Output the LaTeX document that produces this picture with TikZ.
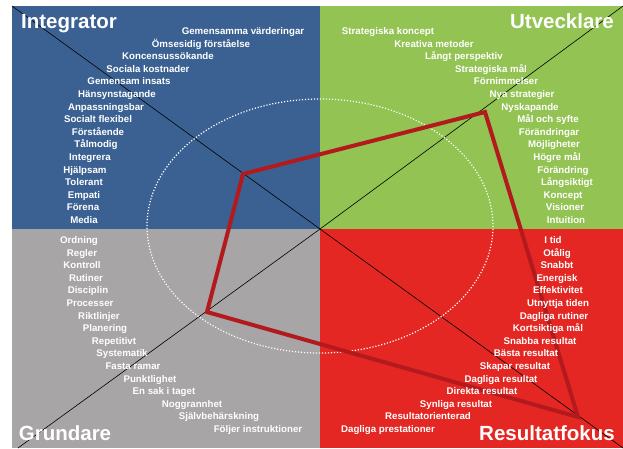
\documentclass[tikz,border=0pt]{standalone}
\usepackage{fontspec}
\setmainfont{Liberation Sans}
\usepackage{xcolor}
\usetikzlibrary{positioning}
\definecolor{intblue}{HTML}{3A6192}
\definecolor{utvgreen}{HTML}{92C353}
\definecolor{grugrey}{HTML}{A7A5A6}
\definecolor{resred}{HTML}{E42723}
\definecolor{profred}{HTML}{B31A1E}
\tikzset{
  word/.style={
    text=white,
    font=\bfseries\fontsize{9.7}{11}\selectfont,
    inner sep=0pt, anchor=base},
  title/.style={
    text=white,
    font=\bfseries\fontsize{20.5}{24}\selectfont,
    inner sep=0pt, anchor=base},
  axis/.style={draw=black, line width=0.6pt},
  profil/.style={draw=profred, line width=4pt, line join=miter},
}

\begin{document}
\begin{tikzpicture}[x=1pt,y=-1pt]
  \tikzset{
      ring/.style={draw=white, line width=1.2pt, dash pattern=on 1.2pt off 1.8pt},
  }
  \useasboundingbox (0,0) rectangle (623,448);
  % quadrants
  \fill[intblue]  (12,6) rectangle (320,229);
  \fill[utvgreen] (320,6) rectangle (623,229);
  \fill[grugrey]  (12,229) rectangle (320,448);
  \fill[resred]   (320,229) rectangle (623,448);

  \coordinate (mid) at (320,229);
  \draw[axis] (12,6) -- (mid) -- (623,448);
  \draw[axis] (623,6) -- (mid) -- (18,448);
  \draw[ring] (320,226) ellipse [x radius=173, y radius=127];

  % profile
  \coordinate (pint) at (243,174);
  \coordinate (putv) at (485,112);
  \coordinate (pres) at (578,417);
  \coordinate (pgru) at (207,312);
  \draw[profil] (pint) -- (putv) -- (pres) -- (pgru) -- cycle;

  \node[title] (tint) at (69,28.5) {Integrator};
  \node[title] (tutv) at (562,28) {Utvecklare};
  \node[title] (tgru) at (65,440) {Grundare};
  \node[title] (tres) at (547,440) {Resultatfokus};

  \foreach \t/\x [count=\i from 0] in {Gemensamma värderingar/243, Ömsesidig förståelse/201,
      Koncensussökande/168, Sociala kostnader/148, Gemensam insats/129, Hänsynstagande/117,
      Anpassningsbar/106, Socialt flexibel/98, Förstående/98, Tålmodig/96, Integrera/90,
      Hjälpsam/85, Tolerant/84, Empati/84, Förena/83, Media/84}
    \node[word] (int\i) at (\x,{34.5+12.6*\i}) {\t};

  \foreach \t/\x [count=\i from 0] in {Strategiska koncept/388, Kreativa metoder/434,
      Långt perspektiv/464, Strategiska mål/491, Förnimmelser/506, Nya strategier/522,
      Nyskapande/530, Mål och syfte/548, Förändringar/549, Möjligheter/554, Högre mål/557,
      Förändring/563, Långsiktigt/567, Koncept/563, Visioner/565, Intuition/566}
    \node[word] (utv\i) at (\x,{34.5+12.6*\i}) {\t};

  \foreach \t/\x [count=\i from 0] in {Ordning/79, Regler/82, Kontroll/82, Rutiner/86,
      Disciplin/88, Processer/90, Riktlinjer/99, Planering/105, Repetitivt/114,
      Systematik/122, Fasta ramar/133, Punktlighet/150, En sak i taget/164,
      Noggrannhet/192, Självbehärskning/219, Följer instruktioner/258}
    \node[word] (gru\i) at (\x,{243.5+12.6*\i}) {\t};

  \foreach \t/\x [count=\i from 0] in {I tid/553, Otålig/557, Snabbt/557, Energisk/557,
      Effektivitet/558, Utnyttja tiden/558, Dagliga rutiner/554, Kortsiktiga mål/548,
      Snabba resultat/540, Bästa resultat/526, Skapar resultat/515, Dagliga resultat/501,
      Direkta resultat/482, Synliga resultat/456, Resultatorienterad/428,
      Dagliga prestationer/388}
    \node[word] (res\i) at (\x,{243.5+12.6*\i}) {\t};
\end{tikzpicture}
\end{document}
